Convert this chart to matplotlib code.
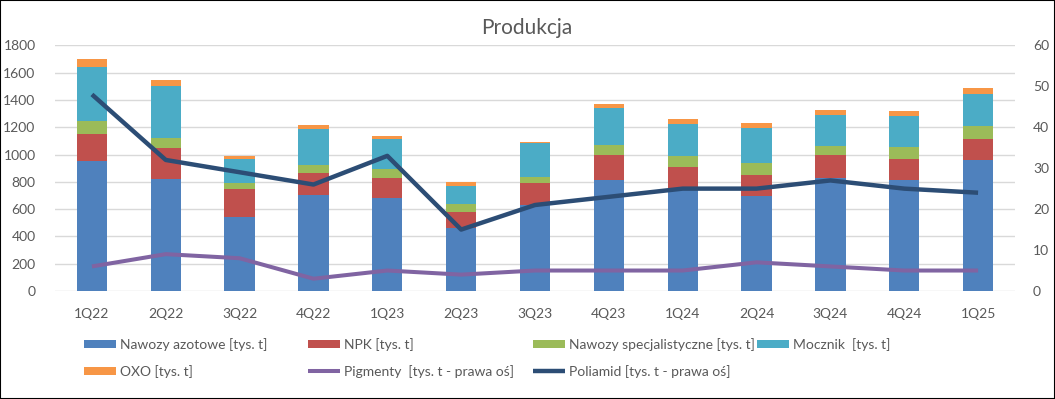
import numpy as np
import matplotlib
matplotlib.use('Agg')
import matplotlib.pyplot as plt
from matplotlib.patches import Rectangle

plt.rcParams['font.family'] = ['Lato', 'DejaVu Sans']

quarters = ['1Q22', '2Q22', '3Q22', '4Q22', '1Q23', '2Q23', '3Q23',
            '4Q23', '1Q24', '2Q24', '3Q24', '4Q24', '1Q25']
azotowe = [953, 821, 542, 704, 684, 464, 630, 816, 740, 699, 831, 814, 960]
npk = [198, 229, 206, 161, 147, 117, 162, 181, 169, 151, 166, 153, 154]
specjalistyczne = [97, 74, 44, 58, 63, 59, 43, 73, 80, 88, 66, 88, 95]
mocznik = [394, 381, 175, 264, 220, 132, 247, 274, 235, 259, 227, 230, 237]
oxo = [58, 41, 22, 30, 22, 27, 10, 27, 37, 34, 37, 34, 42]
pigmenty = [6, 9, 8, 3, 5, 4, 5, 5, 5, 7, 6, 5, 5]
poliamid = [48, 32, 29, 26, 33, 15, 21, 23, 25, 25, 27, 25, 24]

bar_series = [
    (azotowe, 'Nawozy azotowe [tys. t]', '#4F81BD'),
    (npk, 'NPK [tys. t]', '#C0504D'),
    (specjalistyczne, 'Nawozy specjalistyczne [tys. t]', '#9BBB59'),
    (mocznik, 'Mocznik  [tys. t]', '#4BACC6'),
    (oxo, 'OXO [tys. t]', '#F79646'),
]
line_series = [
    (pigmenty, 'Pigmenty  [tys. t - prawa oś]', '#8064A2', 2.9),
    (poliamid, 'Poliamid [tys. t - prawa oś]', '#2C4D75', 3.2),
]

text_col = '#595959'
grid_col = '#D9D9D9'

fig = plt.figure(figsize=(10.55, 3.99), dpi=100)
ax = fig.add_axes([55 / 1055, 1 - 291 / 399, 960 / 1055, (291 - 45.3) / 399])
ax2 = ax.twinx()

x = np.arange(len(quarters))
bottom = np.zeros(len(quarters))
handles = []
for vals, label, col in bar_series:
    h = ax.bar(x, vals, width=0.41, bottom=bottom, color=col, label=label, zorder=2)
    bottom += np.array(vals)
    handles.append(h)

for vals, label, col, lw in line_series:
    h, = ax2.plot(x, vals, color=col, lw=lw, label=label, solid_capstyle='butt')
    handles.append(h)

ax.set_xlim(-0.5, len(quarters) - 0.5)
ax.set_ylim(0, 1800)
ax.set_yticks(np.arange(0, 1801, 200))
ax2.set_ylim(0, 60)
ax2.set_yticks(np.arange(0, 61, 10))
ax.set_xticks(x)
ax.set_xticklabels(quarters)
ax.yaxis.grid(True, color=grid_col, lw=1)
ax.set_axisbelow(True)

for a in (ax, ax2):
    for s in a.spines.values():
        s.set_visible(False)
    a.tick_params(length=0, colors=text_col, labelsize=10)
ax.tick_params(axis='x', pad=12)
ax.tick_params(axis='y', pad=14)
ax2.tick_params(axis='y', pad=13)

fig.text(527 / 1055, 1 - 28 / 399, 'Produkcja', ha='center', va='center',
         fontsize=15, color=text_col)

# legend: equal-width columns like the Excel one
order = [[0, 4], [1, 5], [2, 6], [3]]
col_x = [84, 308, 533, 757]
for idx, cx in zip(order, col_x):
    leg = fig.legend([handles[i] for i in idx], [handles[i].get_label() for i in idx],
                     loc='upper left', bbox_to_anchor=(cx / 1055, 1 - 338 / 399),
                     frameon=False, fontsize=10, handlelength=2.3, handleheight=0.58,
                     handletextpad=0.3, labelspacing=1.0, borderpad=0, borderaxespad=0)
    for t in leg.get_texts():
        t.set_color(text_col)

fig.patches.append(Rectangle((0, 0), 1, 1, transform=fig.transFigure, fill=False,
                             edgecolor='black', lw=1.5))

fig.savefig('out.png', dpi=100)
